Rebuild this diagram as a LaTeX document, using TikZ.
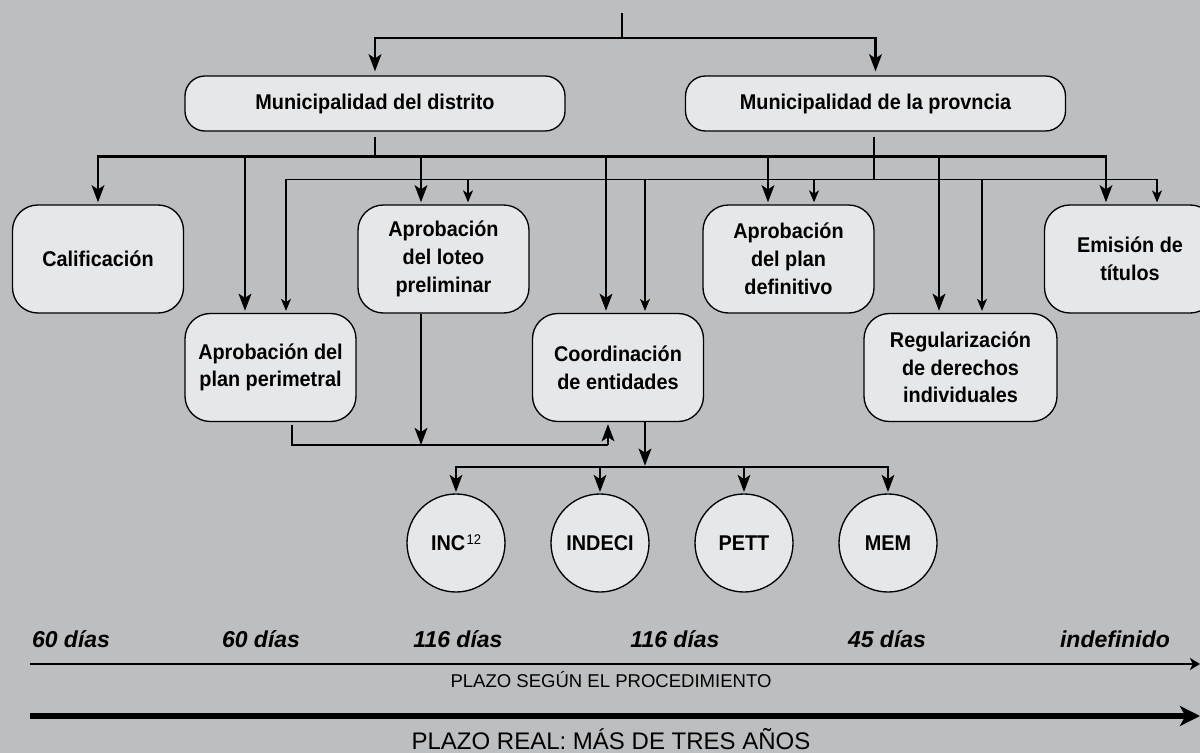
\documentclass[tikz,border=0pt]{standalone}
\usepackage{fontspec}
\setmainfont{Liberation Sans}
\newfontfamily\cndfont{Liberation Sans}[FakeStretch=0.93]
\usetikzlibrary{arrows.meta,calc}
\definecolor{bgc}{RGB}{189,190,192}
\definecolor{boxfill}{RGB}{230,231,233}
\begin{document}
\begin{tikzpicture}[x=0.75pt,y=-0.75pt,
  box/.style={draw=black, line width=1pt, fill=boxfill, rounded corners=19pt,
    minimum width=171*0.75pt, minimum height=108*0.75pt, align=center, inner sep=0pt,
    font=\cndfont\fontsize{16}{20.8}\selectfont\bfseries},
  muni/.style={box, rounded corners=15pt, minimum width=380*0.75pt, minimum height=55*0.75pt},
  circ/.style={draw=black, line width=1pt, fill=boxfill, circle, minimum size=98*0.75pt,
    inner sep=0pt, font=\cndfont\fontsize{16}{18}\selectfont\bfseries},
  thk/.style={line width=1.9pt},
  thinln/.style={line width=0.9pt},
  thka/.style={thk, -{Stealth[length=12.75pt,width=9.5pt,inset=3pt]}, shorten >=1.5pt},
  thna/.style={thinln, -{Stealth[length=9pt,width=7.5pt,inset=2.5pt]}, shorten >=1.5pt},
  day/.style={anchor=base, font=\fontsize{17.25}{20}\selectfont\bfseries\itshape},
]
\fill[bgc] (0,0) rectangle (1200,753);
\useasboundingbox (0,0) rectangle (1200,753);

% top level boxes
\node[muni] (dist) at (375,103.5) {Municipalidad del distrito};
\node[muni] (prov) at (875.5,103.5) {Municipalidad de la provncia};

% process boxes
\node[box] (calif) at (98,259) {Calificación};
\node[box] (perim) at (270.5,367.5) {Aprobación del\\plan perimetral};
\node[box] (loteo) at (443.5,259) {Aprobación\\del loteo\\preliminar};
\node[box] (coord) at (618,367.5) {Coordinación\\de entidades};
\node[box] (def) at (788.5,259) {Aprobación\\del plan\\definitivo};
\node[box, minimum width=193*0.75pt] (reg) at (960.5,367.5) {Regularización\\de derechos\\individuales};
\node[box] (emis) at (1130,259) {Emisión de\\títulos};

% entities
\node[circ] (inc) at (456,543) {INC\kern1pt\raisebox{4.5pt}{\fontsize{10.5}{10.5}\selectfont\mdseries 12}};
\node[circ] (indeci) at (600,543) {INDECI};
\node[circ] (pett) at (744,543) {PETT};
\node[circ] (mem) at (888,543) {MEM};

% top connector
\coordinate (top) at (622,13);
\coordinate (tb) at (622,38);
\draw[thk] (top) -- (tb);
\draw[thka, shorten >=3pt] (tb) -| (dist.north);
\draw[thka, shorten >=3pt] (tb) -| (prov.north);

% thick bus from distrito
\coordinate (db) at ($(dist.south)+(0,25)$);
\draw[thk, shorten <=4pt] (dist.south) -- (db);
\draw[thka] (db) -| (calif.north);
\draw[thka] (db) -| ($(perim.north)+(-25.5,0)$);
\draw[thka] (db) -| ($(loteo.north)+(-22.5,0)$);
\draw[thka] (db) -| ($(coord.north)+(-12,0)$);
\draw[thka] (db) -| ($(def.north)+(-20.5,0)$);
\draw[thka] (db) -| ($(reg.north)+(-21.5,0)$);
\draw[thka] (db) -| ($(emis.north)+(-24,0)$);

% thin bus from provincia
\coordinate (ps) at ($(prov.south)+(-1.5,0)$);
\coordinate (pb) at ($(prov.south)+(-1.5,48)$);
\draw[thinln, shorten <=4pt] (ps) -- (pb);
\draw[thna] (pb) -| ($(perim.north)+(15.5,0)$);
\draw[thna] (pb) -| ($(loteo.north)+(24.5,0)$);
\draw[thna] (pb) -| ($(coord.north)+(27,0)$);
\draw[thna] (pb) -| ($(def.north)+(25.5,0)$);
\draw[thna] (pb) -| ($(reg.north)+(21.5,0)$);
\draw[thna] (pb) -| ($(emis.north)+(27,0)$);

% lower connections
\coordinate (pbot) at ($(perim.south)+(21.5,0)$);
\coordinate (j) at (608,445);
\draw[thk, shorten <=2pt] (pbot) |- (j);
\draw[thka] (j) -- (j |- coord.south);
\coordinate (lt) at ($(loteo.south)+(-22.5,0)$);
\draw[thka, shorten >=0pt] (lt) -- (lt |- j);
\coordinate (cd) at ($(coord.south)+(27,0)$);
\coordinate (cb) at (645,467);
\draw[thka, shorten >=1pt] (cd) -- (cb);
\draw[thka, shorten >=1pt] (cb) -| (inc.north);
\draw[thka, shorten >=1pt] (cb) -| (indeci.north);
\draw[thka, shorten >=1pt] (cb) -| (pett.north);
\draw[thka, shorten >=1pt] (cb) -| (mem.north);

% timeline
\node[day] (d1) at (71,647) {60 días};
\node[day] (d2) at (261,647) {60 días};
\node[day] (d3) at (458,647) {116 días};
\node[day] (d4) at (675,647) {116 días};
\node[day] (d5) at (887,647) {45 días};
\node[day] (d6) at (1115,647) {indefinido};

\coordinate (a1) at (30,664);
\coordinate (a2) at (1200,664);
\draw[line width=1.5pt, -{Stealth[length=7.5pt,width=9pt,inset=2pt]}] (a1) -- (a2);
\node[anchor=base, font=\fontsize{13.9}{16}\selectfont] (p1) at (611,687) {PLAZO SEGÚN EL PROCEDIMIENTO};

\coordinate (b1) at (30,716);
\coordinate (b2) at (1200,716);
\draw[line width=4.1pt, -{Stealth[length=15pt,width=15pt,inset=4pt]}] (b1) -- (b2);
\node[anchor=base, font=\fontsize{18}{20}\selectfont] (p2) at (611,749) {PLAZO REAL: MÁS DE TRES AÑOS};
\end{tikzpicture}
\end{document}
